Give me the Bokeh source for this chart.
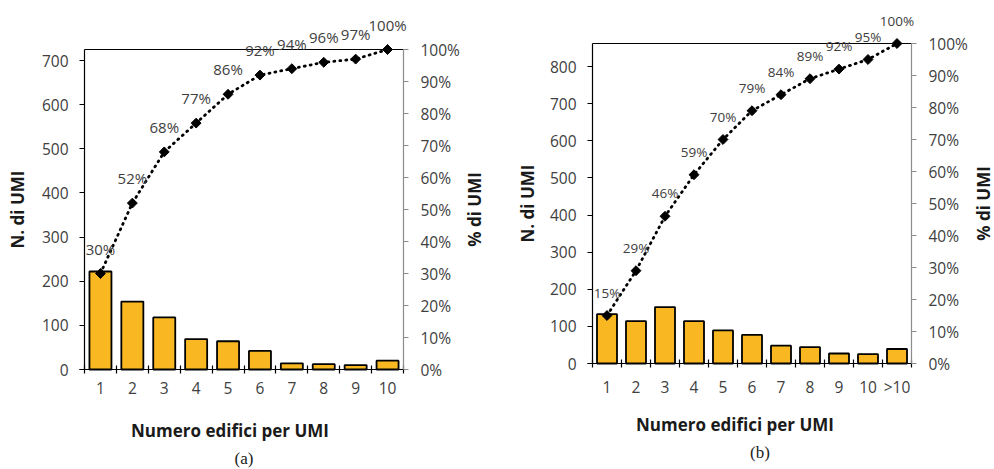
import math

from bokeh.embed import file_html
from bokeh.layouts import row
from bokeh.models import (FixedTicker, Label, LinearAxis, PrintfTickFormatter,
                          Range1d)
from bokeh.plotting import figure
from bokeh.resources import INLINE

# ---- data -------------------------------------------------------------
categories_a = ["1", "2", "3", "4", "5", "6", "7", "8", "9", "10"]
counts_a = [222, 154, 118, 69, 64, 42, 14, 12, 10, 20]
cumulative_pct_a = [30, 52, 68, 77, 86, 92, 94, 96, 97, 100]
count_ticks_a = [0, 100, 200, 300, 400, 500, 600, 700]

categories_b = ["1", "2", "3", "4", "5", "6", "7", "8", "9", "10", ">10"]
counts_b = [133, 114, 152, 114, 89, 77, 48, 44, 27, 25, 39]
cumulative_pct_b = [15, 29, 46, 59, 70, 79, 84, 89, 92, 95, 100]
count_ticks_b = [0, 100, 200, 300, 400, 500, 600, 700, 800]

pct_ticks = [0, 10, 20, 30, 40, 50, 60, 70, 80, 90, 100]

x_title = "Numero edifici per UMI"
y_title_left = "N. di UMI"
y_title_right = "% di UMI"

# ---- styling ----------------------------------------------------------
FONT = "Open Sans"
SERIF = "Liberation Serif"
BAR_FILL = "#F9B822"
TEXT_GREY = "#404040"
TITLE_COLOR = "#1A1A1A"
AXIS_GREY = "#8C8C8C"
TICK_SIZE = "15.5px"
TITLE_SIZE = "17px"
W, H = 497, 469


def pareto(categories, counts, cum_pct, count_ticks, caption, box,
           label_size, label_lift, ytitle_gap, xtitle_pos, caption_pos):
    """One Pareto panel; `box` is the plot rectangle (left, right, top,
    bottom) in pixels. The frame fills the whole canvas so that the value
    labels above the 100 % line are never clipped; the axes are pinned to
    the rectangle with fixed_location/bounds."""
    bl, br, bt, bb = box
    n = len(categories)
    xs = list(range(1, n + 1))
    total = sum(counts)
    mid = (n + 1) / 2

    slot = (br - bl) / n
    ppu = (bb - bt) / total
    ppp = (bb - bt) / 100

    p = figure(width=W, height=H,
               x_range=Range1d(0.5 - bl / slot, n + 0.5 + (W - br) / slot),
               y_range=Range1d(-(H - bb) / ppu, total + bt / ppu),
               output_backend="svg", toolbar_location=None, min_border=0,
               background_fill_color="white", border_fill_color="white",
               outline_line_color=None)
    p.grid.visible = False
    p.extra_y_ranges = {"pct": Range1d(-(H - bb) / ppp, 100 + bt / ppp)}

    # category axis: labels at bar centres, tick marks between bars
    xaxis = p.xaxis[0]
    xaxis.fixed_location = 0
    xaxis.bounds = (0.5 - 5 / slot, n + 0.5)
    xaxis.ticker = FixedTicker(ticks=xs,
                               minor_ticks=[i + 0.5 for i in range(n + 1)])
    xaxis.major_label_overrides = {x: c for x, c in zip(xs, categories)}
    xaxis.major_tick_in = 0
    xaxis.major_tick_out = 0
    xaxis.minor_tick_in = 4
    xaxis.minor_tick_out = 4
    xaxis.minor_tick_line_color = "black"
    xaxis.minor_tick_line_width = 1.2
    xaxis.axis_line_color = "black"
    xaxis.axis_line_width = 1.2
    xaxis.major_label_standoff = 8
    xaxis.major_label_text_font = FONT
    xaxis.major_label_text_font_size = TICK_SIZE
    xaxis.major_label_text_color = TEXT_GREY

    # count axis
    yaxis = p.yaxis[0]
    yaxis.fixed_location = 0.5
    yaxis.bounds = (0, total)
    yaxis.ticker = FixedTicker(ticks=count_ticks)
    yaxis.major_tick_in = 0
    yaxis.major_tick_out = 5
    yaxis.minor_tick_line_color = None
    yaxis.axis_line_color = "black"
    yaxis.axis_line_width = 1.2
    yaxis.major_tick_line_color = "black"
    yaxis.major_label_standoff = 11
    yaxis.major_label_text_font = FONT
    yaxis.major_label_text_font_size = TICK_SIZE
    yaxis.major_label_text_color = TEXT_GREY

    # top edge of the plot rectangle
    top_edge = LinearAxis(fixed_location=total, bounds=(0.5, n + 0.5),
                          ticker=FixedTicker(ticks=[]),
                          major_label_text_font_size="0px",
                          major_tick_line_color=None,
                          minor_tick_line_color=None,
                          axis_line_color="black", axis_line_width=1.2)
    p.add_layout(top_edge, "above")

    # cumulative percentage axis
    pct_axis = LinearAxis(y_range_name="pct", fixed_location=n + 0.5,
                          bounds=(0, 100),
                          ticker=FixedTicker(ticks=pct_ticks),
                          formatter=PrintfTickFormatter(format="%d%%"))
    pct_axis.major_tick_in = 0
    pct_axis.major_tick_out = 5
    pct_axis.minor_tick_line_color = None
    pct_axis.axis_line_color = AXIS_GREY
    pct_axis.axis_line_width = 1.2
    pct_axis.major_tick_line_color = AXIS_GREY
    pct_axis.major_label_standoff = 12
    pct_axis.major_label_text_font = FONT
    pct_axis.major_label_text_font_size = TICK_SIZE
    pct_axis.major_label_text_color = TEXT_GREY
    p.add_layout(pct_axis, "right")

    # bars
    p.vbar(x=xs, top=counts, width=0.69, fill_color=BAR_FILL,
           line_color="black", line_width=1.8)

    # cumulative curve with its value labels
    p.line(x=xs, y=cum_pct, y_range_name="pct",
           line_color="black", line_width=2.8, line_dash="1 5",
           line_cap="round")
    p.scatter(x=xs, y=cum_pct, y_range_name="pct",
              marker="square", angle=math.pi / 4, size=7,
              fill_color="black", line_color="black")
    for x, v in zip(xs, cum_pct):
        p.add_layout(Label(x=x, y=v, y_range_name="pct", text=f"{v}%",
                           y_offset=label_lift,
                           text_align="center", text_baseline="middle",
                           text_font=FONT, text_font_size=label_size,
                           text_color=TEXT_GREY))

    # axis titles
    title_style = dict(text_align="center", text_baseline="middle",
                       text_font=FONT, text_font_size=TITLE_SIZE,
                       text_font_style="bold", text_color=TITLE_COLOR)
    p.add_layout(Label(x=0.5, y=total / 2, x_offset=-ytitle_gap[0],
                       angle=math.pi / 2, text=y_title_left, **title_style))
    p.add_layout(Label(x=n + 0.5, y=50, y_range_name="pct",
                       x_offset=ytitle_gap[1], angle=math.pi / 2,
                       text=y_title_right, **title_style))
    p.add_layout(Label(x=mid, y=0, x_offset=xtitle_pos[0],
                       y_offset=xtitle_pos[1], text=x_title, **title_style))

    # sub-figure caption
    p.add_layout(Label(x=mid, y=0, x_offset=caption_pos[0],
                       y_offset=caption_pos[1], text=caption,
                       text_align="center", text_baseline="middle",
                       text_font=SERIF, text_font_size="17px",
                       text_color="#222222"))
    return p


pa = pareto(categories_a, counts_a, cumulative_pct_a, count_ticks_a, "(a)",
            box=(84, 403, 49, 369), label_size="15px", label_lift=25,
            ytitle_gap=(67, 71), xtitle_pos=(-14, -61), caption_pos=(0, -89))
pb = pareto(categories_b, counts_b, cumulative_pct_b, count_ticks_b, "(b)",
            box=(95, 414, 43, 363), label_size="13.5px", label_lift=23,
            ytitle_gap=(65, 72), xtitle_pos=(-17, -61), caption_pos=(8, -89))

layout = row(pa, pb)
open("out.html", "w").write(file_html(layout, INLINE))
